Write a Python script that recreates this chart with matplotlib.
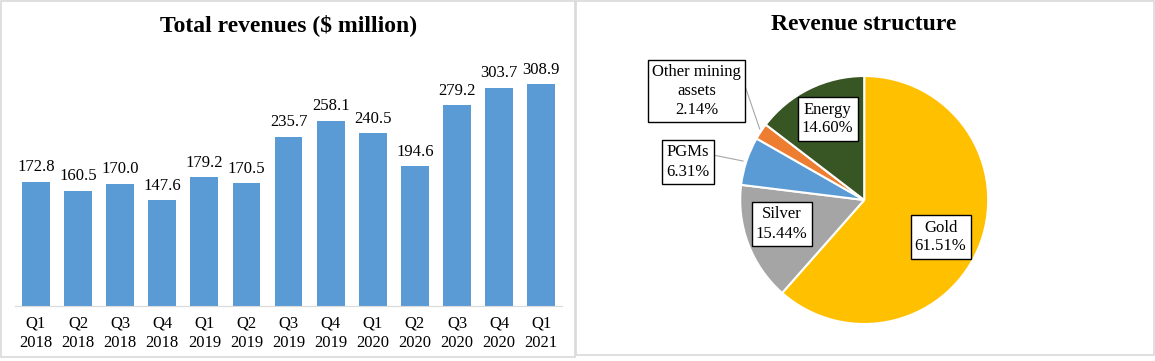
import matplotlib
matplotlib.use("Agg")
import matplotlib.pyplot as plt
from matplotlib.patches import Rectangle

plt.rcParams["font.family"] = ["Liberation Serif", "DejaVu Serif"]

quarters = ["Q1\n2018", "Q2\n2018", "Q3\n2018", "Q4\n2018",
            "Q1\n2019", "Q2\n2019", "Q3\n2019", "Q4\n2019",
            "Q1\n2020", "Q2\n2020", "Q3\n2020", "Q4\n2020", "Q1\n2021"]
revenues = [172.8, 160.5, 170.0, 147.6, 179.2, 170.5, 235.7,
            258.1, 240.5, 194.6, 279.2, 303.7, 308.9]

segments = ["Gold", "Silver", "PGMs", "Other mining\nassets", "Energy"]
shares = [61.51, 15.44, 6.31, 2.14, 14.60]
seg_colors = ["#FFC000", "#A5A5A5", "#5B9BD5", "#ED7D31", "#375623"]

W, H = 1155, 361
FS = 12
fig = plt.figure(figsize=(W / 100, H / 100), dpi=100)


def px_rect(x0, y0, x1, y1):
    # pixel box (top-left origin) -> figure fraction [l, b, w, h]
    return [x0 / W, (H - y1) / H, (x1 - x0) / W, (y1 - y0) / H]


# panel frames
for x0, y0, x1, y1 in [(0.5, 0.5, 575, 357), (576, 0.5, 1154, 355)]:
    l, b, w, h = px_rect(x0, y0, x1, y1)
    fig.add_artist(Rectangle((l, b), w, h, transform=fig.transFigure,
                             fill=False, edgecolor="#d9d9d9", lw=1.2))

# --- bar chart ---
ax = fig.add_axes(px_rect(14.8, 54.5, 562.3, 306))
x = range(len(quarters))
ax.bar(x, revenues, width=0.66, color="#5B9BD5")
ax.set_xlim(-0.5, len(quarters) - 0.5)
ax.set_ylim(0, 350)
ax.set_xticks(list(x))
ax.set_xticklabels(quarters, fontsize=FS, linespacing=1.25)
ax.tick_params(axis="x", length=0, pad=7)
ax.set_yticks([])
for s in ["top", "left", "right"]:
    ax.spines[s].set_visible(False)
ax.spines["bottom"].set_color("#d9d9d9")
for i, v in enumerate(revenues):
    ax.annotate(f"{v:.1f}", (i, v), xytext=(0, 7.5), textcoords="offset points",
                ha="center", va="baseline", fontsize=FS)
fig.text(288.6 / W, 1 - 25 / H, "Total revenues ($ million)", ha="center",
         va="center", fontsize=17, fontweight="bold")

# --- pie chart ---
r = 124
cx, cy = 864.2, 200
pax = fig.add_axes(px_rect(cx - 1.25 * r, cy - 1.25 * r, cx + 1.25 * r, cy + 1.25 * r))
pax.pie(shares, colors=seg_colors, startangle=90, counterclock=False,
        wedgeprops=dict(edgecolor="white", linewidth=1.5))
pax.set_xlim(-1.25, 1.25)
pax.set_ylim(-1.25, 1.25)
pax.set_aspect("equal")

label_pos = [(940.6, 237), (781.7, 224), (688, 162), (696.5, 91), (827.7, 119)]
for name, val, (px, py) in zip(segments, shares, label_pos):
    pax.text((px - cx) / r, (cy - py) / r, f"{name}\n{val:.2f}%", ha="center",
             va="center", fontsize=FS, linespacing=1.25, clip_on=False,
             bbox=dict(boxstyle="square,pad=0.25", fc="white", ec="black", lw=1))

# leader lines for the small slices
leaders = [((713, 155), (743, 161)), ((744, 83), (759.7, 129))]
for (ax0, ay0), (ax1, ay1) in leaders:
    pax.plot([(ax0 - cx) / r, (ax1 - cx) / r], [(cy - ay0) / r, (cy - ay1) / r],
             color="#a6a6a6", lw=0.8, clip_on=False, zorder=0.5)

fig.text(864 / W, 1 - 25 / H, "Revenue structure", ha="center", va="center",
         fontsize=17, fontweight="bold")

fig.savefig("out.png", dpi=100)
